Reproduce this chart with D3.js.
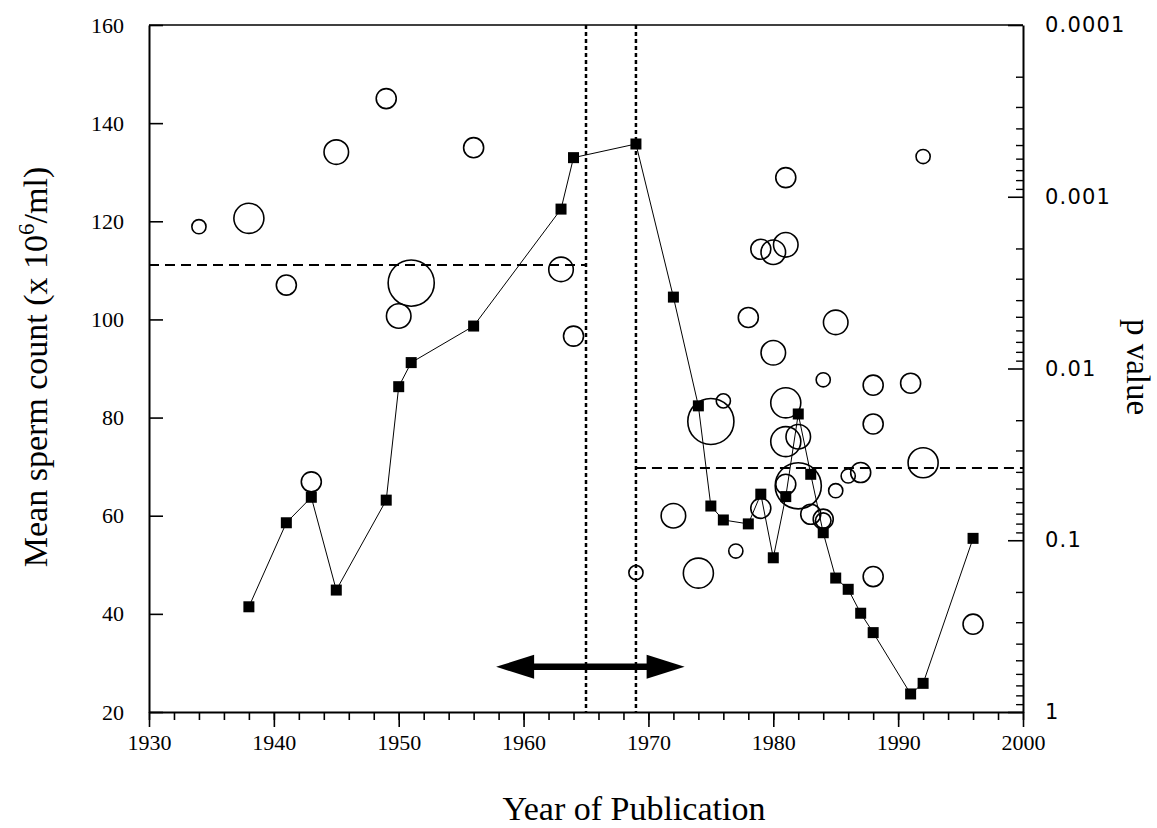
<!DOCTYPE html>
<html>
<head>
<meta charset="utf-8">
<script src="https://cdn.jsdelivr.net/npm/d3@7"></script>
<style>
  html, body { margin: 0; padding: 0; background: #fff; }
  svg { display: block; }
</style>
</head>
<body>
<svg id="chart" width="1157" height="828"></svg>
<script>
// ---- Data ----
// Open circles: individual study mean sperm counts (left axis), circle area ~ study size
const circleYears  = [1934, 1938, 1941, 1943, 1945, 1949, 1950, 1951, 1956, 1963, 1964, 1969,
                      1972, 1974, 1975, 1976, 1977, 1978, 1979, 1979, 1980, 1980, 1981, 1981,
                      1981, 1981, 1981, 1982, 1982, 1983, 1984, 1984, 1984, 1985, 1985, 1986,
                      1987, 1988, 1988, 1988, 1991, 1992, 1992, 1996];
const circleCounts = [118.9, 120.6, 107.0, 66.9, 134.1, 145.0, 100.7, 107.4, 135.0, 110.2, 96.6, 48.4,
                      60.0, 48.3, 79.2, 83.4, 52.8, 100.4, 114.3, 61.5, 113.7, 93.2, 128.9, 115.2,
                      83.0, 75.1, 66.4, 76.1, 66.1, 60.3, 87.7, 59.3, 59.0, 99.4, 65.1, 68.1,
                      68.8, 86.6, 78.7, 47.6, 87.0, 133.2, 70.8, 37.9];
const circleN      = [50, 225, 100, 100, 150, 100, 150, 530, 100, 150, 100, 50,
                      150, 225, 530, 50, 50, 100, 100, 100, 150, 150, 100, 150,
                      225, 225, 100, 150, 530, 100, 50, 100, 60, 150, 50, 50,
                      100, 100, 100, 100, 100, 50, 225, 100];

// Filled squares: p value by year (right, log axis)
const squareYears = [1938, 1941, 1943, 1945, 1949, 1950, 1951, 1956, 1963, 1964, 1969, 1972,
                     1974, 1975, 1976, 1978, 1979, 1980, 1981, 1982, 1983, 1984, 1985, 1986,
                     1987, 1988, 1991, 1992, 1996];
const squareP     = [0.244, 0.0791, 0.0562, 0.195, 0.0584, 0.01276, 0.00924, 0.00566, 0.00118, 0.000592, 0.000493, 0.00384,
                     0.0165, 0.0632, 0.0762, 0.0803, 0.0539, 0.1265, 0.0557, 0.0184, 0.0413, 0.0904, 0.166, 0.193,
                     0.266, 0.345, 0.785, 0.681, 0.0975];

// Reference lines
const cutYears    = [1965, 1969];          // vertical dotted lines
const meanBefore  = { value: 111.1, from: 1930, to: 1965 };
const meanAfter   = { value: 69.7,  from: 1969, to: 2000 };
const arrowYears  = [1957.8, 1972.9];
const arrowLevel  = 29.2;

// Ticks
const xMajorTicks = [1930, 1940, 1950, 1960, 1970, 1980, 1990, 2000];
const xMinorTicks = d3.range(1930, 2001, 2);
const yLeftTicks  = [20, 40, 60, 80, 100, 120, 140, 160];
const pTicks      = [0.0001, 0.001, 0.01, 0.1, 1];
const pTickLabels = ["0.0001", "0.001", "0.01", "0.1", "1"];
const pMinorTicks = [];
[0.0001, 0.001, 0.01, 0.1].forEach(d => { for (let k = 2; k <= 9; k++) pMinorTicks.push(+(d * k).toPrecision(3)); });

// ---- Scales ----
const x  = d3.scaleLinear().domain([1930, 2000]).range([149, 1023]);
const yL = d3.scaleLinear().domain([20, 160]).range([712, 25]);
const yR = d3.scaleLog().domain([1, 0.0001]).range([712, 25]);
const r  = d3.scaleSqrt().domain([0, 500]).range([0, 22.4]);

const svg = d3.select("#chart");
const serif = "'Liberation Serif', 'Times New Roman', serif";
const sans  = "'DejaVu Sans', sans-serif";

// ---- Axes ----
// Top border
svg.append("line")
  .attr("x1", x(1930)).attr("x2", x(2000))
  .attr("y1", yL(160)).attr("y2", yL(160))
  .attr("stroke", "#000").attr("stroke-width", 1.6);

// Left axis
const gL = svg.append("g").attr("transform", `translate(${x(1930)},0)`)
  .call(d3.axisLeft(yL).tickValues(yLeftTicks).tickSize(-14).tickSizeOuter(0).tickPadding(25).tickFormat(d3.format("d")));
gL.select(".domain").attr("stroke-width", 2);
gL.selectAll(".tick line").attr("stroke-width", 1.6);
gL.selectAll("text").attr("font-family", serif).attr("font-size", 22).attr("fill", "#000");

// Bottom axis (minor)
const gBm = svg.append("g").attr("transform", `translate(0,${yL(20)})`)
  .call(d3.axisBottom(x).tickValues(xMinorTicks).tickSize(8).tickSizeOuter(0).tickFormat(""));
gBm.select(".domain").attr("stroke-width", 2);
gBm.selectAll(".tick line").attr("stroke-width", 1.6);
// Bottom axis (major)
const gB = svg.append("g").attr("transform", `translate(0,${yL(20)})`)
  .call(d3.axisBottom(x).tickValues(xMajorTicks).tickSize(15).tickSizeOuter(0).tickPadding(7).tickFormat(d3.format("d")));
gB.select(".domain").remove();
gB.selectAll(".tick line").attr("stroke-width", 1.6);
gB.selectAll("text").attr("font-family", serif).attr("font-size", 22).attr("fill", "#000");

// Right axis (minor)
const gRm = svg.append("g").attr("transform", `translate(${x(2000)},0)`)
  .call(d3.axisRight(yR).tickValues(pMinorTicks).tickSize(-7).tickSizeOuter(0).tickFormat(""));
gRm.select(".domain").attr("stroke-width", 2);
gRm.selectAll(".tick line").attr("stroke-width", 1.4);
// Right axis (major)
const gR = svg.append("g").attr("transform", `translate(${x(2000)},0)`)
  .call(d3.axisRight(yR).tickValues(pTicks).tickSize(-15).tickSizeOuter(0).tickPadding(22)
        .tickFormat((d, i) => pTickLabels[i]));
gR.select(".domain").remove();
gR.selectAll(".tick line").attr("stroke-width", 1.6);
gR.selectAll("text").attr("font-family", sans).attr("font-size", 21)
  .attr("letter-spacing", 1.2).attr("fill", "#000");

// ---- Reference lines ----
svg.append("g").selectAll("line").data(cutYears).join("line")
  .attr("x1", d => x(d)).attr("x2", d => x(d))
  .attr("y1", yL(160)).attr("y2", yL(20))
  .attr("stroke", "#000").attr("stroke-width", 2.5).attr("stroke-dasharray", "4,3");

svg.append("g").selectAll("line").data([meanBefore, meanAfter]).join("line")
  .attr("x1", d => x(d.from)).attr("x2", d => x(d.to))
  .attr("y1", d => yL(d.value)).attr("y2", d => yL(d.value))
  .attr("stroke", "#000").attr("stroke-width", 2).attr("stroke-dasharray", "10,6");

// ---- Connected squares (p value) ----
const sq = squareYears.map((yr, i) => ({ yr, p: squareP[i] }));
svg.append("path").datum(sq)
  .attr("fill", "none").attr("stroke", "#000").attr("stroke-width", 1)
  .attr("d", d3.line().x(d => x(d.yr)).y(d => yR(d.p)));

// ---- Circles (mean counts) ----
const circ = circleYears.map((yr, i) => ({ yr, v: circleCounts[i], n: circleN[i] }));
svg.append("g").selectAll("circle").data(circ).join("circle")
  .attr("cx", d => x(d.yr)).attr("cy", d => yL(d.v)).attr("r", d => r(d.n))
  .attr("fill", "none").attr("stroke", "#000").attr("stroke-width", 1.6);

const S = 11;
svg.append("g").selectAll("rect").data(sq).join("rect")
  .attr("x", d => x(d.yr) - S / 2).attr("y", d => yR(d.p) - S / 2)
  .attr("width", S).attr("height", S).attr("fill", "#000");

// ---- Double-headed arrow ----
const ax0 = x(arrowYears[0]), ax1 = x(arrowYears[1]), ay = yL(arrowLevel);
const headL = 38, headH = 12;
svg.append("line")
  .attr("x1", ax0 + headL - 2).attr("x2", ax1 - headL + 2).attr("y1", ay).attr("y2", ay)
  .attr("stroke", "#000").attr("stroke-width", 6.5);
svg.append("path").attr("fill", "#000")
  .attr("d", `M${ax0},${ay} L${ax0 + headL},${ay - headH} L${ax0 + headL},${ay + headH} Z`);
svg.append("path").attr("fill", "#000")
  .attr("d", `M${ax1},${ay} L${ax1 - headL},${ay - headH} L${ax1 - headL},${ay + headH} Z`);

// ---- Titles ----
svg.append("text")
  .attr("x", 634).attr("y", 820)
  .attr("text-anchor", "middle").attr("font-family", serif).attr("font-size", 34)
  .text("Year of Publication");

const yt = svg.append("text")
  .attr("transform", `translate(47,367) rotate(-90)`)
  .attr("text-anchor", "middle").attr("font-family", serif).attr("font-size", 34);
yt.append("tspan").text("Mean sperm count (x 10");
yt.append("tspan").attr("font-size", 23).attr("dy", "-0.55em").text("6");
yt.append("tspan").attr("dy", "0.38em").text("/ml)");

svg.append("text")
  .attr("transform", `translate(1127,367) rotate(90)`)
  .attr("text-anchor", "middle").attr("font-family", serif).attr("font-size", 33)
  .text("p value");
</script>
</body>
</html>
